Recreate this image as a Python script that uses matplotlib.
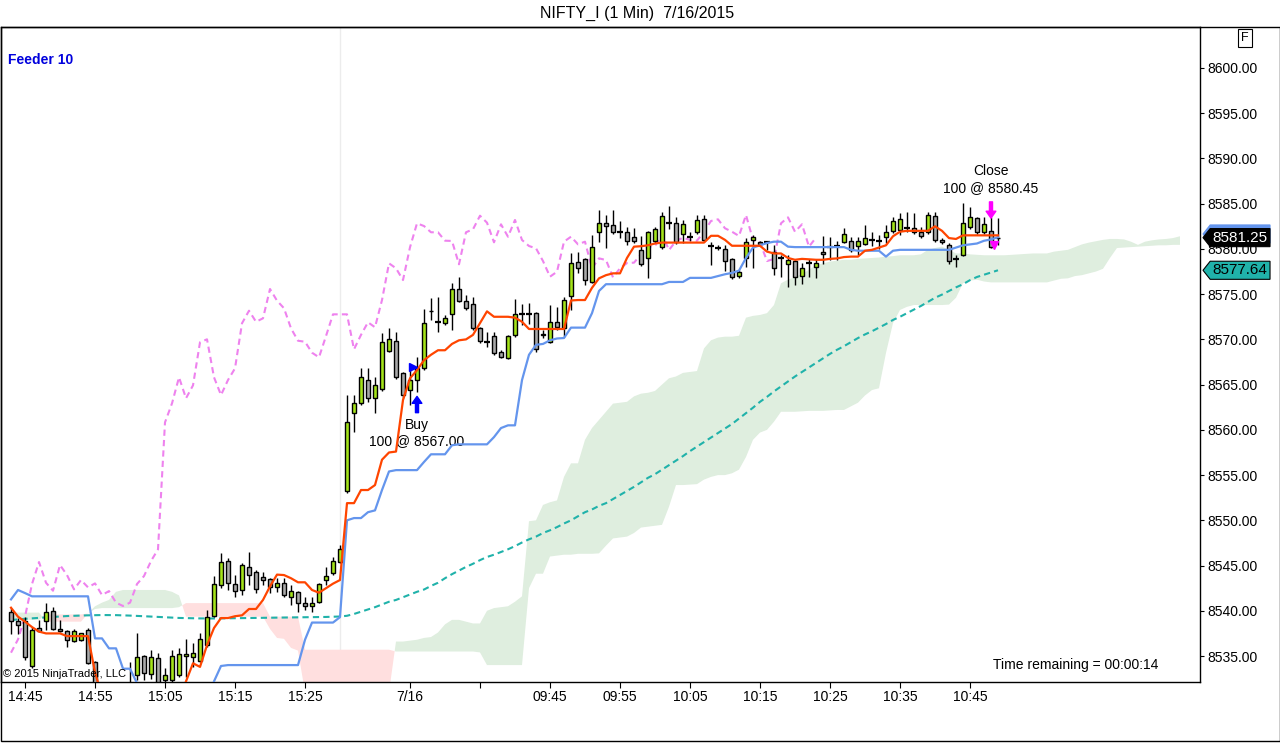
import numpy as np
import matplotlib
matplotlib.use('Agg')
import matplotlib.pyplot as plt
from matplotlib.patches import Rectangle, Polygon
from matplotlib.transforms import blended_transform_factory

plt.rcParams['font.family'] = ['Liberation Sans', 'DejaVu Sans']

# 1-minute bars, NIFTY_I, 14:43 (7/15) .. 10:49 (7/16)
opens = [
    8539.90, 8538.87, 8538.87, 8533.89, 8538.09, 8538.91, 8539.97, 8537.95, 8537.80, 8536.69,  # 0
    8536.77, 8537.87, 8534.37, 8531.50, 8530.60, 8531.00, 8530.40, 8531.20, 8532.94, 8535.00,  # 10
    8533.00, 8534.74, 8532.34, 8532.34, 8532.90, 8535.00, 8534.92, 8534.45, 8536.22, 8539.42,  # 20
    8542.85, 8545.53, 8542.96, 8542.29, 8544.80, 8544.32, 8543.70, 8543.48, 8542.59, 8543.10,  # 30
    8541.55, 8542.10, 8540.82, 8540.53, 8541.00, 8543.40, 8544.14, 8545.42, 8553.24, 8561.83,  # 40
    8562.93, 8565.51, 8563.49, 8564.51, 8568.75, 8569.85, 8566.25, 8564.40, 8565.51, 8566.80,  # 50
    8573.15, 8571.95, 8571.78, 8572.77, 8575.57, 8574.28, 8573.91, 8571.22, 8569.74, 8570.37,  # 60
    8568.57, 8567.98, 8570.48, 8572.77, 8572.77, 8572.88, 8570.60, 8569.74, 8571.89, 8571.22,  # 70
    8574.83, 8578.52, 8578.85, 8576.38, 8581.84, 8582.83, 8582.64, 8581.84, 8581.84, 8581.28,  # 80
    8579.88, 8578.96, 8580.88, 8580.25, 8582.90, 8582.83, 8581.65, 8581.35, 8581.84, 8583.31,  # 90
    8580.32, 8580.07, 8579.96, 8578.85, 8577.04, 8578.96, 8580.99, 8580.80, 8580.80, 8579.69,  # 100
    8578.96, 8578.33, 8578.66, 8577.01, 8578.44, 8577.97, 8579.69, 8580.25, 8580.32, 8580.80,  # 110
    8580.88, 8580.32, 8580.54, 8580.99, 8580.91, 8581.28, 8581.98, 8582.09, 8582.28, 8582.28,  # 120
    8581.90, 8581.90, 8583.64, 8580.99, 8580.40, 8578.89, 8579.33, 8582.39, 8583.38, 8581.90,  # 130
    8581.98, 8581.20,
]
highs = [
    8540.30, 8539.20, 8539.35, 8538.24, 8538.98, 8540.82, 8540.45, 8538.98, 8537.90, 8538.00,
    8537.60, 8538.06, 8534.50, 8531.80, 8531.20, 8531.60, 8531.50, 8534.37, 8537.51, 8535.10,
    8535.66, 8535.30, 8533.64, 8535.66, 8535.85, 8536.84, 8536.47, 8537.50, 8540.08, 8543.87,
    8546.38, 8545.80, 8543.95, 8545.25, 8546.46, 8544.50, 8544.32, 8543.60, 8543.60, 8543.60,
    8542.85, 8542.20, 8541.55, 8541.55, 8543.03, 8544.80, 8545.98, 8547.30, 8563.85, 8563.85,
    8566.80, 8566.80, 8565.87, 8570.67, 8571.22, 8570.85, 8566.40, 8566.61, 8568.02, 8573.33,
    8574.54, 8574.72, 8572.70, 8576.20, 8576.93, 8574.91, 8574.72, 8571.40, 8570.85, 8570.85,
    8568.82, 8570.50, 8574.43, 8573.91, 8574.06, 8573.00, 8571.00, 8573.80, 8573.60, 8574.72,
    8579.52, 8579.70, 8579.00, 8581.54, 8584.30, 8583.75, 8584.30, 8583.12, 8582.46, 8582.28,
    8581.39, 8582.00, 8582.46, 8584.11, 8584.74, 8583.56, 8583.20, 8581.90, 8583.75, 8583.75,
    8580.80, 8580.43, 8580.43, 8579.00, 8577.67, 8581.17, 8581.54, 8580.85, 8580.85, 8580.43,
    8579.33, 8579.33, 8578.80, 8578.41, 8578.89, 8578.89, 8581.43, 8581.35, 8580.88, 8582.28,
    8581.35, 8581.35, 8582.64, 8581.90, 8581.54, 8582.64, 8583.56, 8583.94, 8584.11, 8583.94,
    8582.46, 8584.11, 8584.11, 8581.20, 8580.62, 8579.30, 8585.04, 8584.67, 8583.49, 8583.56,
    8583.56, 8583.38,
]
lows = [
    8537.43, 8537.43, 8534.60, 8533.64, 8537.68, 8537.87, 8537.90, 8537.68, 8535.96, 8536.60,
    8536.70, 8534.10, 8531.00, 8530.20, 8529.80, 8530.00, 8530.00, 8530.50, 8532.34, 8532.30,
    8532.50, 8531.80, 8531.50, 8532.00, 8532.70, 8532.70, 8533.82, 8534.30, 8536.03, 8539.30,
    8542.48, 8542.29, 8541.55, 8541.74, 8542.85, 8541.93, 8542.85, 8541.93, 8542.10, 8541.55,
    8540.64, 8539.90, 8540.08, 8539.90, 8540.90, 8542.85, 8544.00, 8545.30, 8553.00, 8559.79,
    8562.70, 8563.11, 8561.83, 8564.30, 8568.60, 8565.60, 8563.49, 8562.74, 8564.22, 8566.60,
    8572.14, 8570.85, 8571.60, 8571.04, 8574.10, 8573.30, 8571.00, 8569.60, 8569.19, 8568.27,
    8567.90, 8567.80, 8570.30, 8571.59, 8571.70, 8568.60, 8570.20, 8569.60, 8571.00, 8570.30,
    8573.25, 8577.30, 8576.01, 8576.20, 8580.80, 8580.07, 8581.60, 8581.17, 8580.43, 8580.70,
    8578.10, 8576.82, 8580.70, 8580.00, 8582.17, 8580.50, 8580.62, 8580.90, 8581.70, 8580.80,
    8578.22, 8579.88, 8577.56, 8576.70, 8576.80, 8578.04, 8577.93, 8580.30, 8579.88, 8577.12,
    8576.93, 8575.82, 8576.01, 8576.09, 8576.93, 8576.75, 8578.33, 8578.77, 8578.77, 8580.60,
    8579.69, 8579.33, 8580.40, 8580.32, 8580.00, 8580.62, 8581.80, 8581.54, 8581.90, 8581.70,
    8581.20, 8581.70, 8580.80, 8580.50, 8578.33, 8577.97, 8579.20, 8582.20, 8581.70, 8581.70,
    8580.07, 8580.43,
]
closes = [
    8538.87, 8538.42, 8534.85, 8537.87, 8537.76, 8539.90, 8537.95, 8537.80, 8536.77, 8537.80,
    8537.51, 8534.26, 8531.50, 8530.60, 8531.00, 8530.40, 8531.20, 8531.80, 8534.85, 8533.08,
    8534.85, 8532.17, 8532.90, 8535.00, 8535.22, 8535.20, 8535.37, 8536.84, 8539.35, 8542.96,
    8545.39, 8543.10, 8542.22, 8545.06, 8543.95, 8542.37, 8543.40, 8542.59, 8543.03, 8541.74,
    8542.18, 8540.90, 8540.53, 8540.90, 8542.96, 8543.84, 8545.50, 8546.79, 8560.83, 8562.93,
    8565.81, 8563.49, 8564.92, 8569.68, 8570.01, 8565.81, 8563.85, 8565.51, 8566.80, 8571.78,
    8573.17, 8571.95, 8572.33, 8575.57, 8574.28, 8573.44, 8571.22, 8569.85, 8569.74, 8568.53,
    8568.02, 8570.37, 8572.77, 8572.77, 8572.77, 8568.90, 8570.50, 8571.89, 8571.34, 8574.35,
    8578.41, 8577.86, 8576.56, 8580.18, 8582.83, 8582.53, 8581.84, 8581.84, 8580.91, 8580.88,
    8578.30, 8581.84, 8582.17, 8583.67, 8582.90, 8580.73, 8582.72, 8581.35, 8583.20, 8580.99,
    8580.32, 8580.07, 8578.66, 8576.93, 8577.48, 8580.80, 8581.35, 8580.51, 8580.80, 8577.86,
    8578.96, 8578.77, 8576.86, 8577.86, 8578.44, 8578.48, 8579.40, 8580.25, 8580.32, 8581.62,
    8579.88, 8580.88, 8581.24, 8580.99, 8580.91, 8581.90, 8583.09, 8583.27, 8582.28, 8581.90,
    8581.43, 8583.75, 8580.99, 8580.73, 8578.66, 8578.89, 8582.83, 8583.49, 8581.90, 8582.72,
    8580.25, 8581.25,
]

# Ichimoku conversion line (orange) and base line (blue), read per bar
tenkan = [
    8540.34, 8539.35, 8538.80, 8538.20, 8537.70, 8537.50, 8537.50, 8537.50, 8537.20, 8537.20,
    8537.20, 8537.20, 8533.20, 8530.60, 8530.00, 8530.00, 8530.00, 8530.00, 8530.00, 8530.00,
    8530.00, 8530.00, 8530.00, 8530.00, 8530.00, 8532.20, 8534.20, 8533.80, 8536.20, 8538.10,
    8539.20, 8539.20, 8539.40, 8539.50, 8540.20, 8540.20, 8541.20, 8542.70, 8544.00, 8543.95,
    8543.60, 8543.15, 8543.15, 8542.30, 8542.00, 8542.50, 8543.00, 8543.40, 8551.90, 8551.90,
    8553.35, 8553.35, 8553.90, 8556.70, 8557.50, 8557.60, 8563.30, 8565.70, 8566.60, 8567.70,
    8568.30, 8568.80, 8568.80, 8569.50, 8569.90, 8570.00, 8570.50, 8571.80, 8573.10, 8572.50,
    8572.50, 8572.50, 8572.40, 8571.95, 8571.15, 8571.15, 8571.15, 8571.15, 8571.15, 8571.15,
    8574.30, 8574.35, 8574.35, 8575.70, 8576.75, 8577.10, 8577.30, 8577.30, 8579.00, 8580.25,
    8580.30, 8580.40, 8580.60, 8580.70, 8580.70, 8580.70, 8580.70, 8580.70, 8580.70, 8580.70,
    8581.45, 8581.45, 8581.00, 8580.35, 8580.35, 8580.35, 8580.35, 8580.35, 8579.70, 8579.50,
    8579.50, 8579.00, 8578.80, 8578.90, 8578.85, 8578.80, 8578.80, 8578.90, 8578.95, 8579.10,
    8579.15, 8579.15, 8579.80, 8579.90, 8580.15, 8580.40, 8581.40, 8581.90, 8582.00, 8582.00,
    8582.00, 8582.00, 8582.50, 8582.00, 8581.20, 8581.10, 8581.50, 8581.50, 8581.50, 8581.50,
    8581.50, 8581.50,
]
kijun = [
    8541.26, 8542.30, 8541.96, 8541.60, 8541.60, 8541.60, 8541.60, 8541.60, 8541.60, 8541.60,
    8541.60, 8541.60, 8536.95, 8536.95, 8535.85, 8535.85, 8533.60, 8533.60, 8532.00, 8530.00,
    8530.00, 8530.00, 8530.00, 8530.00, 8530.00, 8530.00, 8530.00, 8530.00, 8530.00, 8532.20,
    8533.90, 8534.00, 8534.00, 8534.00, 8534.00, 8534.00, 8534.00, 8534.00, 8534.00, 8534.00,
    8534.00, 8534.00, 8536.80, 8538.70, 8538.70, 8538.70, 8538.70, 8539.30, 8550.00, 8550.25,
    8550.25, 8550.90, 8551.10, 8553.35, 8555.40, 8555.55, 8555.55, 8555.55, 8555.55, 8556.45,
    8557.30, 8557.30, 8557.30, 8558.30, 8558.40, 8558.40, 8558.40, 8558.40, 8558.40, 8559.20,
    8560.20, 8560.50, 8560.50, 8565.50, 8568.30, 8569.40, 8569.50, 8569.90, 8570.10, 8570.15,
    8571.30, 8571.30, 8571.30, 8572.90, 8575.35, 8576.10, 8576.10, 8576.10, 8576.10, 8576.10,
    8576.10, 8576.10, 8576.10, 8576.10, 8576.35, 8576.35, 8576.35, 8576.80, 8576.80, 8576.80,
    8576.80, 8577.00, 8577.20, 8577.35, 8577.60, 8579.00, 8580.15, 8580.40, 8580.65, 8580.80,
    8580.80, 8580.25, 8580.20, 8580.20, 8580.20, 8580.20, 8580.20, 8580.20, 8580.20, 8580.20,
    8579.90, 8579.80, 8579.80, 8579.80, 8579.80, 8579.15, 8579.80, 8579.90, 8579.90, 8579.90,
    8579.90, 8579.90, 8579.90, 8579.90, 8579.90, 8580.15, 8580.40, 8580.50, 8580.60, 8580.90,
    8581.05, 8581.30,
]
# teal dashed moving average
avg_line = [
    8538.98, 8539.05, 8539.11, 8539.17, 8539.22, 8539.27, 8539.32, 8539.37, 8539.42, 8539.45,
    8539.48, 8539.50, 8539.52, 8539.53, 8539.53, 8539.52, 8539.50, 8539.47, 8539.44, 8539.40,
    8539.36, 8539.32, 8539.28, 8539.24, 8539.21, 8539.19, 8539.17, 8539.16, 8539.15, 8539.15,
    8539.16, 8539.17, 8539.18, 8539.19, 8539.20, 8539.21, 8539.22, 8539.23, 8539.24, 8539.25,
    8539.26, 8539.27, 8539.28, 8539.29, 8539.30, 8539.32, 8539.34, 8539.37, 8539.45, 8539.65,
    8539.90, 8540.15, 8540.40, 8540.70, 8541.00, 8541.20, 8541.50, 8541.80, 8542.10, 8542.35,
    8542.75, 8543.10, 8543.60, 8544.05, 8544.45, 8544.85, 8545.20, 8545.60, 8545.95, 8546.20,
    8546.50, 8546.80, 8547.15, 8547.55, 8547.90, 8548.20, 8548.60, 8548.90, 8549.25, 8549.65,
    8550.00, 8550.45, 8550.90, 8551.20, 8551.60, 8551.90, 8552.35, 8552.80, 8553.25, 8553.70,
    8554.20, 8554.70, 8555.10, 8555.60, 8556.10, 8556.60, 8557.10, 8557.65, 8558.15, 8558.65,
    8559.15, 8559.65, 8560.15, 8560.65, 8561.25, 8561.85, 8562.45, 8563.10, 8563.65, 8564.25,
    8564.80, 8565.35, 8565.90, 8566.40, 8566.90, 8567.40, 8567.90, 8568.40, 8568.85, 8569.25,
    8569.70, 8570.15, 8570.55, 8570.90, 8571.30, 8571.70, 8572.15, 8572.50, 8572.90, 8573.30,
    8573.70, 8574.15, 8574.60, 8574.95, 8575.35, 8575.75, 8576.10, 8576.55, 8576.90, 8577.15,
    8577.40, 8577.64,
]
# cloud spans, projected 26 bars past the last bar
span_a = [
    8539.80, 8539.80, 8539.80, 8539.80, 8539.80, 8538.80, 8538.80, 8538.80, 8538.80, 8538.80,
    8538.80, 8539.70, 8540.50, 8540.90, 8541.20, 8542.10, 8542.30, 8542.30, 8542.30, 8542.30,
    8542.30, 8542.30, 8542.30, 8542.10, 8541.70, 8539.35, 8539.35, 8539.35, 8539.35, 8539.35,
    8539.35, 8539.35, 8539.35, 8539.35, 8539.35, 8539.35, 8539.35, 8538.00, 8537.00, 8536.90,
    8535.90, 8535.60, 8531.00, 8531.00, 8531.00, 8531.00, 8531.00, 8531.00, 8531.00, 8531.00,
    8531.00, 8531.00, 8531.00, 8531.00, 8531.00, 8536.60, 8536.60, 8536.70, 8536.80, 8537.00,
    8537.10, 8537.60, 8538.50, 8539.00, 8539.00, 8538.80, 8538.60, 8538.60, 8540.00, 8540.30,
    8540.40, 8540.50, 8541.00, 8541.60, 8549.90, 8550.00, 8551.70, 8552.00, 8552.20, 8554.80,
    8556.30, 8556.30, 8558.90, 8560.20, 8561.10, 8562.00, 8562.90, 8563.00, 8563.10, 8563.70,
    8564.00, 8564.10, 8564.30, 8565.00, 8565.70, 8565.90, 8566.30, 8566.40, 8566.50, 8569.00,
    8569.90, 8570.20, 8570.30, 8570.30, 8570.40, 8572.40, 8572.60, 8572.70, 8572.90, 8573.80,
    8576.20, 8576.60, 8576.90, 8577.20, 8577.70, 8578.20, 8578.40, 8578.60, 8578.70, 8578.80,
    8578.80, 8578.90, 8578.95, 8579.00, 8579.05, 8579.15, 8579.20, 8579.30, 8579.30, 8579.30,
    8579.40, 8579.90, 8580.10, 8580.25, 8579.90, 8579.50, 8579.50, 8579.40, 8579.35, 8579.30,
    8579.30, 8579.30, 8579.30, 8579.35, 8579.40, 8579.45, 8579.50, 8579.50, 8579.50, 8579.70,
    8579.80, 8579.90, 8580.20, 8580.50, 8580.70, 8580.85, 8581.00, 8581.10, 8581.10, 8581.05,
    8580.80, 8580.45, 8580.80, 8580.95, 8581.05, 8581.10, 8581.20, 8581.40,
]
span_b = [
    8539.00, 8539.00, 8539.00, 8539.00, 8539.00, 8539.60, 8539.60, 8539.60, 8539.60, 8539.60,
    8539.60, 8539.70, 8540.20, 8540.30, 8540.30, 8540.30, 8540.30, 8540.30, 8540.30, 8540.30,
    8540.30, 8540.30, 8540.30, 8540.30, 8540.40, 8540.85, 8540.85, 8540.85, 8540.85, 8540.85,
    8540.85, 8540.85, 8540.85, 8540.85, 8540.85, 8540.85, 8540.85, 8539.35, 8539.35, 8539.35,
    8539.35, 8539.35, 8535.70, 8535.70, 8535.70, 8535.70, 8535.70, 8535.70, 8535.70, 8535.70,
    8535.70, 8535.70, 8535.70, 8535.70, 8535.70, 8535.50, 8535.50, 8535.50, 8535.50, 8535.50,
    8535.50, 8535.50, 8535.50, 8535.50, 8535.50, 8535.50, 8535.50, 8535.40, 8534.00, 8534.00,
    8534.00, 8534.00, 8534.00, 8534.00, 8542.50, 8544.10, 8544.10, 8546.00, 8546.10, 8546.20,
    8546.20, 8546.30, 8546.30, 8546.30, 8546.35, 8547.20, 8548.00, 8548.10, 8548.20, 8548.60,
    8549.20, 8549.30, 8549.40, 8549.50, 8551.50, 8553.90, 8553.90, 8553.95, 8554.00, 8554.50,
    8554.80, 8555.00, 8555.00, 8555.20, 8555.60, 8557.00, 8558.90, 8559.70, 8560.00, 8560.90,
    8562.00, 8562.00, 8562.00, 8562.05, 8562.10, 8562.10, 8562.10, 8562.15, 8562.20, 8562.20,
    8562.60, 8563.00, 8563.80, 8564.40, 8564.60, 8568.50, 8571.80, 8573.25, 8573.60, 8573.80,
    8573.80, 8573.80, 8573.80, 8573.80, 8573.85, 8574.60, 8576.20, 8576.50, 8576.60, 8576.40,
    8576.30, 8576.30, 8576.30, 8576.30, 8576.30, 8576.30, 8576.30, 8576.30, 8576.30, 8576.50,
    8576.70, 8576.75, 8577.00, 8577.10, 8577.30, 8577.50, 8577.80, 8579.00, 8580.10, 8580.15,
    8580.20, 8580.25, 8580.30, 8580.35, 8580.40, 8580.40, 8580.45, 8580.45,
]

tick_pos = [2, 12, 22, 32, 42, 57, 67, 77, 87, 97, 107, 117, 127, 137]
tick_labels = ['14:45', '14:55', '15:05', '15:15', '15:25', '7/16', '',
               '09:45', '09:55', '10:05', '10:15', '10:25', '10:35', '10:45']
price_ticks = np.arange(8535, 8601, 5)

buy_bar, buy_price = 58, 8567.00
exit_bar, exit_price = 140, 8580.45
chikou_shift = 26

W, H = 1280, 743
fig = plt.figure(figsize=(W / 100, H / 100), dpi=100)
ax = fig.add_axes([1 / W, 1 - 682 / H, 1199 / W, (682 - 27) / H])

o = np.array(opens)
hi = np.array(highs)
lo = np.array(lows)
c = np.array(closes)
idx = np.arange(len(c))

# cloud
ci = np.arange(len(span_a))
sa = np.array(span_a)
sb = np.array(span_b)
ax.fill_between(ci, sa, sb, where=sa >= sb, interpolate=True, color='#dfeedf', lw=0, zorder=1)
ax.fill_between(ci, sa, sb, where=sb > sa, interpolate=True, color='#ffdfdf', lw=0, zorder=1)

# session break
ax.axvline(47, color='#ececec', lw=1, zorder=0.5)

# lagging span and average
ax.plot(idx[:-chikou_shift], c[chikou_shift:], color='#ee82ee', lw=1.5, dashes=(3, 2), zorder=2)
ax.plot(idx, avg_line, color='#20b2aa', lw=1.5, dashes=(3, 2), zorder=2)

# candles
up = c > o
down = c < o
flat = c == o
ax.vlines(idx, lo, hi, color='black', lw=1, zorder=3)
ax.bar(idx[up], (c - o)[up], bottom=o[up], width=0.7, color='#a4e31a', edgecolor='black', lw=1, zorder=4)
ax.bar(idx[down], (o - c)[down], bottom=c[down], width=0.7, color='#a9a9a9', edgecolor='black', lw=1, zorder=4)
ax.hlines(c[flat], idx[flat] - 0.38, idx[flat] + 0.38, color='black', lw=1.6, zorder=4)

ax.plot(idx, kijun, color='#6495ed', lw=1.6, zorder=5)
ax.plot(idx, tenkan, color='#ff4500', lw=1.6, zorder=5)

# executions
ax.annotate('', xy=(buy_bar, 8563.7), xytext=(buy_bar, 8561.9),
            arrowprops=dict(facecolor='blue', edgecolor='blue', width=2.2, headwidth=7, headlength=5, shrink=0), zorder=6)
ax.plot(buy_bar - 0.6, buy_price, marker='>', color='blue', ms=6, zorder=6)
ax.text(buy_bar, 8560.5, 'Buy', ha='center', va='center', fontsize=10)
ax.text(buy_bar, 8558.8, f'100 @ {buy_price:.2f}', ha='center', va='center', fontsize=10)

ax.annotate('', xy=(exit_bar, 8583.4), xytext=(exit_bar, 8585.2),
            arrowprops=dict(facecolor='#ff00ff', edgecolor='#ff00ff', width=2.2, headwidth=7, headlength=5, shrink=0), zorder=6)
ax.plot(exit_bar + 0.4, exit_price, marker='v', color='#ff00ff', ms=6, zorder=6)
ax.text(exit_bar, 8588.6, 'Close', ha='center', va='center', fontsize=10)
ax.text(exit_bar, 8586.7, f'100 @ {exit_price:.2f}', ha='center', va='center', fontsize=10)

ax.set_xlim(-1.43, 169.86)
ax.set_ylim(8532.13, 8604.53)

ax.yaxis.tick_right()
ax.set_yticks(price_ticks)
ax.set_yticklabels([f'{v:.2f}' for v in price_ticks])
ax.set_xticks(tick_pos)
ax.set_xticklabels(tick_labels)
ax.tick_params(axis='y', length=3, pad=2, labelsize=10, direction='out')
ax.tick_params(axis='x', length=4, pad=1.5, labelsize=10, direction='out')
for s in ax.spines.values():
    s.set_linewidth(1)

# price markers on the axis (arrow-shaped tags)
tr = blended_transform_factory(ax.transAxes, ax.transData)


def price_tag(value, face, edge, z):
    half = 1.0
    verts = [(1.0025, value), (1.0085, value + half), (1.0584, value + half),
             (1.0584, value - half), (1.0085, value - half)]
    ax.add_patch(Polygon(verts, closed=True, transform=tr, fc=face, ec=edge, lw=0.8,
                         clip_on=False, zorder=z))


price_tag(kijun[-1] + 0.35, '#6495ed', '#6495ed', 7)
price_tag(closes[-1], 'black', 'black', 8)
ax.text(1.0105, closes[-1], f'{closes[-1]:.2f}', transform=tr, ha='left', va='center',
        fontsize=11, color='white', zorder=9, clip_on=False)
price_tag(avg_line[-1], '#20b2aa', 'black', 8)
ax.text(1.0105, avg_line[-1], f'{avg_line[-1]:.2f}', transform=tr, ha='left', va='center',
        fontsize=11, color='black', zorder=9, clip_on=False)

# header / footer texts
fig.text(637 / W, 1 - 13 / H, 'NIFTY_I (1 Min)  7/16/2015', ha='center', va='center', fontsize=11.5)
fig.text(8 / W, 1 - 60 / H, 'Feeder 10', ha='left', va='center', fontsize=10, fontweight='bold', color='#0000dd')
fig.text(3 / W, 1 - 674 / H, '\u00a9 2015 NinjaTrader, LLC', ha='left', va='center', fontsize=8)
fig.text(993 / W, 1 - 665 / H, 'Time remaining = 00:00:14', ha='left', va='center', fontsize=10)
fig.text(1245 / W, 1 - 38 / H, 'F', ha='center', va='center', fontsize=9,
         bbox=dict(boxstyle='square,pad=0.25', fc='white', ec='black', lw=0.8))
fig.add_artist(Rectangle((0.5 / W, 2 / H), 1279 / W, (741 - 27) / H, transform=fig.transFigure,
                         fill=False, ec='black', lw=1))

fig.savefig('out.png', dpi=100)
